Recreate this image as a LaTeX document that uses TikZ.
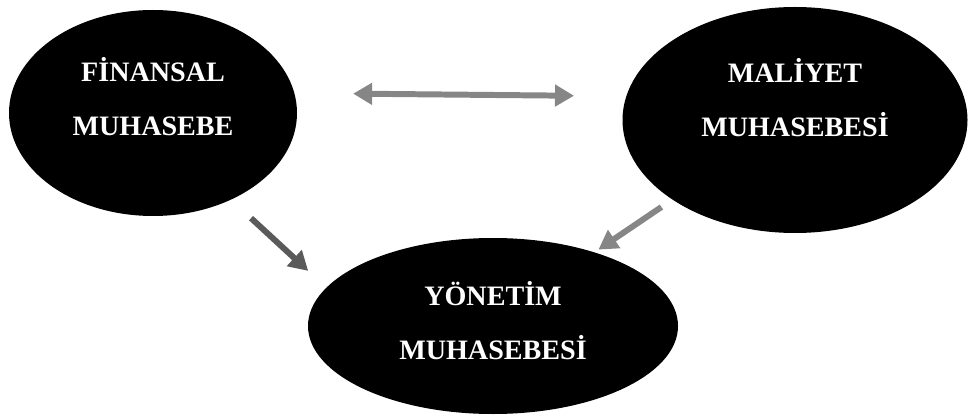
\documentclass[tikz,border=0pt]{standalone}
\usepackage{fontspec}
\setmainfont{Liberation Serif}
\usetikzlibrary{shapes.geometric,arrows.meta}
\definecolor{linkgray}{HTML}{868686}
\definecolor{linkdark}{HTML}{5A5A5A}
\tikzset{
  bubble/.style={ellipse, fill=black, inner sep=0pt},
  lbl/.style={text=white, align=center, font=\bfseries\fontsize{16}{30.7}\selectfont},
  link/.style={line width=3.4pt, -{Triangle[width=0.42cm,length=0.38cm]}},
  dlink/.style={line width=3.4pt, {Triangle[width=0.42cm,length=0.38cm]}-{Triangle[width=0.42cm,length=0.38cm]}}
}
\begin{document}
\begin{tikzpicture}
		\useasboundingbox (0,0) rectangle (19.38,8.34);

		\node[bubble, minimum width=5.76cm, minimum height=4.12cm] (fin) at (3.06,6.08) {};
		\node[bubble, minimum width=6.9cm, minimum height=4.52cm] (mal) at (15.9,5.94) {};
		\node[bubble, minimum width=7.4cm, minimum height=3.52cm] (yon) at (9.86,1.82) {};

		\node[lbl] (finT) at ([yshift=0.32cm]fin.center) {FİNANSAL\\MUHASEBE};
		\node[lbl] (malT) at ([yshift=0.44cm]mal.center) {MALİYET\\MUHASEBESİ};
		\node[lbl] (yonT) at ([yshift=0.1cm]yon.center) {YÖNETİM\\MUHASEBESİ};

		\draw[dlink, linkgray, shorten <=1.17cm, shorten >=1.04cm] (fin.8) -- (mal.172);
		\draw[link, linkdark, shorten <=0.54cm, shorten >=0.49cm] (fin.-48) -- (yon.167);
		\draw[link, linkgray, shorten <=0.26cm, shorten >=0.09cm] (mal.213) -- (yon.36);
	\end{tikzpicture}
\end{document}
